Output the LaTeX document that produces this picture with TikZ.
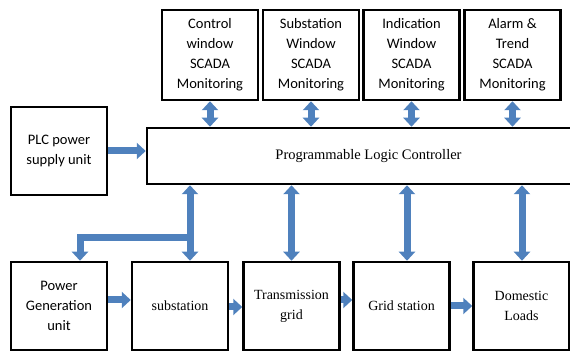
\documentclass[tikz,border=0pt]{standalone}
\usepackage{fontspec}
\setmainfont{Liberation Serif}
\newfontfamily\calib{Carlito}
\newfontfamily\tnr{Liberation Serif}
\usepackage{tikz}
\usetikzlibrary{arrows.meta, calc, positioning}
\definecolor{arrowblue}{HTML}{4F81BD}
\tikzstyle{blk}=[shape=rectangle, draw=black, line width=2.5pt, fill=white, inner sep=2pt, align=center]
\tikzstyle{scadabox}=[blk, minimum width=96pt, minimum height=90pt, font=\calib\fontsize{14.5}{20}\selectfont]
\tikzstyle{unitbox}=[blk, minimum width=96pt, minimum height=88pt, font=\tnr\fontsize{14}{20}\selectfont]
\tikzstyle{fatarrow}=[line width=7pt, draw=arrowblue, -{Triangle[width=16pt,length=9pt]}]
\tikzstyle{fatdbl}=[line width=7pt, draw=arrowblue, {Triangle[width=16pt,length=9pt]}-{Triangle[width=16pt,length=9pt]}]

\begin{document}
\begin{tikzpicture}[x=1pt,y=-1pt]
\useasboundingbox (0,0) rectangle (570,352);
%SCADA windows
\node[scadabox] (ctrl) at (210,55) {Control\\window\\SCADA\\Monitoring};
\node[scadabox] (subw) at (311,55) {Substation\\Window\\SCADA\\Monitoring};
\node[scadabox] (indw) at (411.5,55) {Indication\\Window\\SCADA\\Monitoring};
\node[scadabox] (alrm) at (512.5,55) {Alarm \&\\Trend\\SCADA\\Monitoring};
%PLC
\node[blk, minimum width=443pt, minimum height=56pt, font=\tnr\fontsize{14.5}{18}\selectfont] (plc) at (368.5,156) {Programmable Logic Controller};
\node[unitbox, font=\calib\fontsize{14.5}{20}\selectfont] (psu) at (59,151) {PLC power\\supply unit};
%plant chain
\node[unitbox, font=\calib\fontsize{14.5}{20}\selectfont] (gen) at (59,306) {Power\\Generation\\unit};
\node[unitbox] (sub) at (180,306) {substation};
\node[unitbox] (trans) at (291.5,306) {Transmission\\grid};
\node[unitbox] (gridst) at (401.5,306) {\tnr Grid station};
\node[unitbox] (loads) at (521.5,306) {\tnr Domestic\\\tnr Loads};
% arrows to PLC
\draw[fatarrow] (psu.east) -- (psu.east -| plc.west);
\foreach \w in {ctrl,subw,indw,alrm}{
\draw[fatdbl] (\w.south) -- (\w.south |- plc.north);
}
\draw[fatdbl] ([xshift=10pt]sub.north) -- ([xshift=10pt]sub.north |- plc.south);
\draw[fatdbl] (trans.north) -- (trans.north |- plc.south);
\draw[fatdbl] ([xshift=5.5pt]gridst.north) -- ([xshift=5.5pt]gridst.north |- plc.south);
\draw[fatdbl] ([xshift=0.5pt]loads.north) -- ([xshift=0.5pt]loads.north |- plc.south);
% elbow to generation
\coordinate (elb) at (190,238);
\draw[fatarrow, line join=miter] (elb) -| ([xshift=21pt]gen.north);
% chain
\draw[fatarrow] ([yshift=6pt]gen.east) -- ([yshift=6pt]sub.west);
\draw[fatarrow] ([yshift=-1pt]sub.east) -- ([yshift=-1pt]trans.west);
\draw[fatarrow] ([yshift=6pt]trans.east) -- ([yshift=6pt]gridst.west);
\draw[fatarrow] (gridst.east) -- (loads.west);
\end{tikzpicture}
\end{document}
